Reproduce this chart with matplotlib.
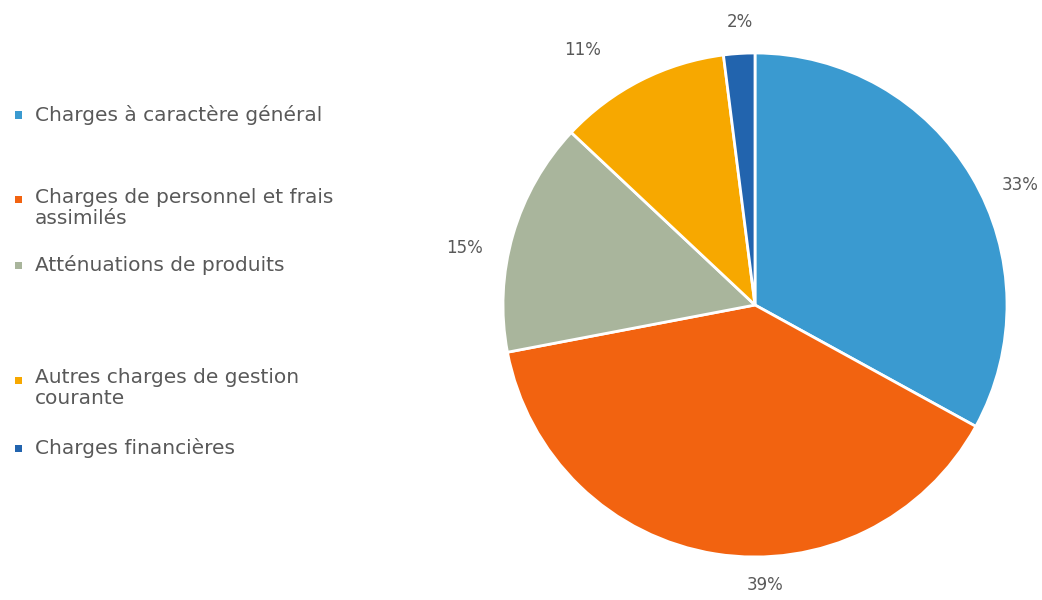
import matplotlib
matplotlib.use("Agg")
import matplotlib.pyplot as plt
from matplotlib.patches import Rectangle

# Répartition des charges de fonctionnement
categories = [
    "Charges à caractère général",
    "Charges de personnel et frais\nassimilés",
    "Atténuations de produits",
    "Autres charges de gestion\ncourante",
    "Charges financières",
]
values = [33, 39, 15, 11, 2]
colors = ["#3A9AD0", "#F26310", "#A9B59C", "#F7A800", "#2264AE"]

W, H = 1042, 600
fig = plt.figure(figsize=(W / 100, H / 100), dpi=100)
fig.patch.set_facecolor("white")

# pie axes placed by pixel centre and radius
cx, cy, r = 755, 305, 252
ax = fig.add_axes([(cx - r) / W, (H - cy - r) / H, 2 * r / W, 2 * r / H])
wedges, texts = ax.pie(
    values,
    colors=colors,
    startangle=90,
    counterclock=False,
    labels=[f"{v}%" for v in values],
    labeldistance=1.15,
    wedgeprops=dict(edgecolor="white", linewidth=2),
    textprops=dict(color="#595959", fontsize=12, family="DejaVu Sans"),
)
# label placement outside the pie (in units of the radius)
label_pos = [(1.052, 0.476), (0.040, -1.111), (-1.151, 0.226),
             (-0.683, 1.012), (-0.060, 1.123)]
for t, (x, y) in zip(texts, label_pos):
    t.set_position((x, y))
    t.set_ha("center")
    t.set_va("center")
ax.set_xlim(-1, 1)
ax.set_ylim(-1, 1)
ax.set_aspect("equal")
ax.axis("off")

# legend drawn at the left of the figure
legend_y = [115, 200, 265, 380, 448]
for name, col, y in zip(categories, colors, legend_y):
    fig.patches.append(Rectangle((15 / W, (H - y - 3.5) / H), 7 / W, 7 / H,
                                 transform=fig.transFigure, facecolor=col,
                                 edgecolor="none"))
    multi = "\n" in name
    fig.text(35 / W, (H - y + (12 if multi else 0)) / H, name,
             fontsize=14.5, color="#595959",
             va="top" if multi else "center",
             linespacing=1.15, family="DejaVu Sans",
             transform=fig.transFigure)

fig.savefig("out.png", dpi=100, facecolor="white")
